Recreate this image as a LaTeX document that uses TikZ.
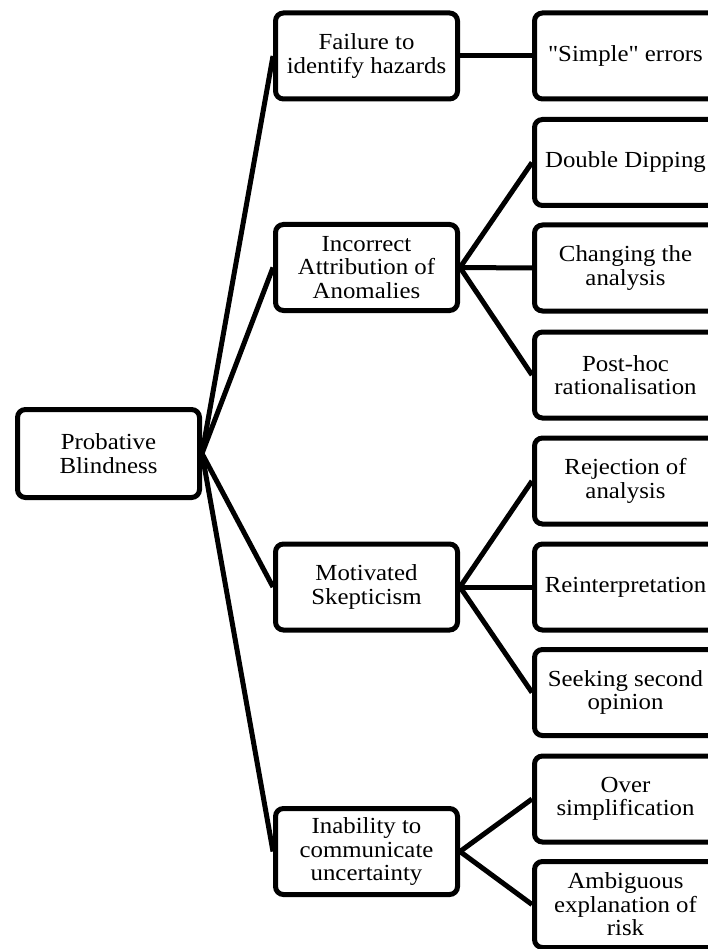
\documentclass[tikz,border=0pt]{standalone}
\usepackage{fontspec}
\setmainfont{Liberation Serif}[FakeStretch=1.08,Ligatures=TeXOff]

\begin{document}
\begin{tikzpicture}[x=1pt,y=-1pt,
    box/.style={draw,line width=5pt,rounded corners=8pt,minimum width=182pt,minimum height=86pt,
        align=center,inner sep=2pt,font=\fontsize{23}{23.5}\selectfont},
    link/.style={line width=5pt}]
    \useasboundingbox (0,0) rectangle (708,949);
    \clip (0,0) rectangle (708,949);
    % root and causes
    \node[box,minimum height=88pt] (pb) at (108.5,453.5) {Probative\\Blindness};
    \node[box] (fail) at (366.5,56) {Failure to\\identify hazards};
    \node[box] (attr) at (366.5,267.5) {Incorrect\\Attribution of\\Anomalies};
    \node[box] (skep) at (366.5,587) {Motivated\\Skepticism};
    \node[box] (comm) at (366.5,851.5) {Inability to\\communicate\\uncertainty};
    % symptoms
    \node[box] (simple) at (625.5,56) {"Simple" errors};
    \node[box] (dip) at (625.5,162.5) {Double Dipping};
    \node[box] (change) at (625.5,268) {Changing the\\analysis};
    \node[box] (posthoc) at (625.5,375) {Post-hoc\\rationalisation};
    \node[box] (reject) at (625.5,481) {Rejection of\\analysis};
    \node[box] (reint) at (625.5,587) {Reinterpretation};
    \node[box] (second) at (625.5,692.5) {Seeking second\\opinion};
    \node[box] (oversimp) at (625.5,799) {Over\\simplification};
    \node[box] (ambig) at (625.5,904.5) {Ambiguous\\explanation of\\risk};
    \foreach \m in {fail,attr,skep,comm}
        \draw[link] (pb.east) -- (\m.west);
    \foreach \a/\b in {fail/simple,attr/dip,attr/change,attr/posthoc,skep/reject,skep/reint,skep/second,comm/oversimp,comm/ambig}
        \draw[link] (\a.east) -- (\b.west);
\end{tikzpicture}
\end{document}
